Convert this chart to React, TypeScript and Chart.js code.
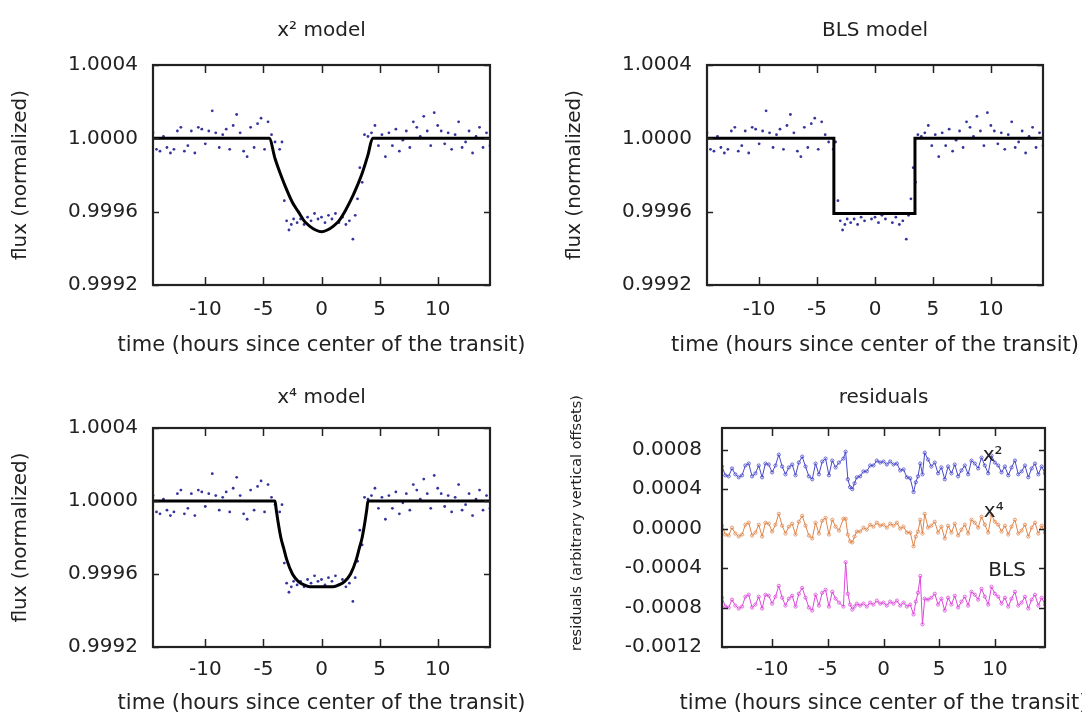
import React, { useEffect, useRef } from "react";
import { Chart, registerables } from "chart.js";

Chart.register(...registerables);

// ---------- data ----------
const times = [
  -14.5, -14.2, -13.9, -13.6, -13.3, -13.0, -12.7, -12.4, -12.1, -11.8, -11.5, -11.2, -10.9, -10.6, -10.3, -10.0,
  -9.7, -9.4, -9.1, -8.8, -8.5, -8.2, -7.9, -7.6, -7.3, -7.0, -6.7, -6.4, -6.1, -5.8, -5.5, -5.2, -4.9, -4.6, -4.3,
  -4.0, -3.6, -3.4, -3.2, -3.0, -2.8, -2.6, -2.4, -2.1, -1.8, -1.5, -1.2, -0.9, -0.6, -0.3, 0.0, 0.3, 0.6, 0.9,
  1.2, 1.5, 1.8, 2.1, 2.4, 2.7, 2.9, 3.1, 3.3, 3.5, 3.7, 4.0,
  4.3, 4.6, 4.9, 5.2, 5.5, 5.8, 6.1, 6.4, 6.7, 7.0, 7.3, 7.6, 7.9, 8.2, 8.5, 8.8, 9.1, 9.4, 9.7, 10.0, 10.3,
  10.6, 10.9, 11.2, 11.5, 11.8, 12.1, 12.4, 12.7, 13.0, 13.3, 13.6, 13.9, 14.2, 14.5,
];

const flux = [
  1.00003, 0.99994, 0.99993, 1.00001, 0.99995, 0.99992, 0.99994, 1.00004, 1.00006, 0.99993, 0.99996, 1.00004,
  0.99992, 1.00006, 1.00005, 0.99997, 1.00004, 1.00015, 1.00003, 0.99995, 1.00002, 1.00005, 0.99994, 1.00007,
  1.00013, 1.00003, 0.99993, 0.9999, 1.00006, 0.99995, 1.00008, 1.00011, 0.99994, 1.00009, 1.00002,
  0.99998, 0.99994, 0.99998, 0.99966, 0.99955, 0.9995, 0.99953, 0.99956, 0.99954, 0.99956, 0.99953, 0.99957,
  0.99955, 0.99959, 0.99956, 0.99957, 0.99954, 0.99958, 0.99956, 0.99959, 0.99954, 0.99957, 0.99953, 0.99955,
  0.99945, 0.99958, 0.99967, 0.99984, 0.99976, 1.00002, 1.00001,
  1.00003, 1.00007, 0.99996, 1.00002, 0.9999, 1.00003, 0.99996, 1.00005, 0.99993, 0.99999, 1.00004, 0.99995,
  1.00009, 1.00006, 1.00001, 1.00012, 1.00004, 0.99996, 1.00014, 1.00007, 1.00004, 0.99997, 1.00003, 0.99994,
  1.00002, 1.00009, 0.99995, 0.99998, 1.00004, 0.99992, 1.00001, 1.00006, 0.99995, 1.00003, 0.99996,
];

const residualX2 = [
  63e-5, 54e-5, 53e-5, 61e-5, 55e-5, 52e-5, 54e-5, 64e-5, 66e-5, 53e-5, 56e-5, 64e-5, 52e-5, 66e-5, 65e-5, 57e-5,
  64e-5, 75e-5, 63e-5, 55e-5, 62e-5, 65e-5, 54e-5, 67e-5, 73e-5, 63e-5, 53e-5, 50e-5, 66e-5, 55e-5, 68e-5, 71e-5,
  54e-5, 69e-5, 62e-5,
  67e-5, 71e-5, 78e-5, 50e-5, 42e-5, 40e-5, 46e-5, 52e-5, 53e-5, 58e-5, 58e-5, 64e-5, 64e-5, 69e-5, 67e-5, 68e-5,
  65e-5, 68e-5, 65e-5, 66e-5, 59e-5, 60e-5, 52e-5, 51e-5, 37e-5, 47e-5, 53e-5, 66e-5, 55e-5, 77e-5, 70e-5,
  63e-5, 67e-5, 56e-5, 62e-5, 50e-5, 63e-5, 56e-5, 65e-5, 53e-5, 59e-5, 64e-5, 55e-5, 69e-5, 66e-5, 61e-5, 72e-5,
  64e-5, 56e-5, 74e-5, 67e-5, 64e-5, 57e-5, 63e-5, 54e-5, 62e-5, 69e-5, 55e-5, 58e-5, 64e-5, 52e-5, 61e-5, 66e-5,
  55e-5, 63e-5, 56e-5,
];

const residualX4 = [
  3e-5, -6e-5, -7e-5, 1e-5, -5e-5, -8e-5, -6e-5, 4e-5, 6e-5, -7e-5, -4e-5, 4e-5, -8e-5, 6e-5, 5e-5, -3e-5,
  4e-5, 15e-5, 3e-5, -5e-5, 2e-5, 5e-5, -6e-5, 7e-5, 13e-5, 3e-5, -7e-5, -10e-5, 6e-5, -5e-5, 8e-5, 11e-5,
  -6e-5, 9e-5, 2e-5,
  -2e-5, 10e-5, 10e-5, -6e-5, -13e-5, -14e-5, -8e-5, -3e-5, -3e-5, 1e-5, -1e-5, 4e-5, 2e-5, 6e-5, 3e-5, 4e-5,
  1e-5, 5e-5, 3e-5, 6e-5, 0, 2e-5, -4e-5, -4e-5, -18e-5, -8e-5, -3e-5, 9e-5, -5e-5, 15e-5, 1e-5,
  3e-5, 7e-5, -4e-5, 2e-5, -10e-5, 3e-5, -4e-5, 5e-5, -7e-5, -1e-5, 4e-5, -5e-5, 9e-5, 6e-5, 1e-5, 12e-5,
  4e-5, -4e-5, 14e-5, 7e-5, 4e-5, -3e-5, 3e-5, -6e-5, 2e-5, 9e-5, -5e-5, -2e-5, 4e-5, -8e-5, 1e-5, 6e-5,
  -5e-5, 3e-5, -4e-5,
];

const residualBLS = [
  -70e-5, -79e-5, -80e-5, -72e-5, -78e-5, -81e-5, -79e-5, -69e-5, -67e-5, -80e-5, -77e-5, -69e-5, -81e-5, -67e-5,
  -68e-5, -76e-5, -69e-5, -58e-5, -70e-5, -78e-5, -71e-5, -68e-5, -79e-5, -66e-5, -60e-5, -70e-5, -80e-5, -83e-5,
  -67e-5, -78e-5, -65e-5, -62e-5, -79e-5, -64e-5, -71e-5,
  -75e-5, -79e-5, -34e-5, -66e-5, -77e-5, -82e-5, -79e-5, -76e-5, -78e-5, -76e-5, -79e-5, -75e-5, -77e-5, -73e-5,
  -76e-5, -75e-5, -78e-5, -74e-5, -76e-5, -73e-5, -78e-5, -75e-5, -79e-5, -77e-5, -87e-5, -74e-5, -65e-5, -48e-5,
  -97e-5, -71e-5, -72e-5,
  -70e-5, -66e-5, -77e-5, -71e-5, -83e-5, -70e-5, -77e-5, -68e-5, -80e-5, -74e-5, -69e-5, -78e-5, -64e-5, -67e-5,
  -72e-5, -61e-5, -69e-5, -77e-5, -59e-5, -66e-5, -69e-5, -76e-5, -70e-5, -79e-5, -71e-5, -64e-5, -78e-5, -75e-5,
  -69e-5, -81e-5, -72e-5, -67e-5, -78e-5, -70e-5, -77e-5,
];

const x2ModelTime = [-14.5, -4.5, -4.0, -3.5, -3.0, -2.5, -2.0, -1.5, -1.0, -0.5, 0, 0.5, 1.0, 1.5, 2.0, 2.5, 3.0, 3.5, 4.0, 4.4, 14.5];
const x2ModelFlux = [1, 1, 0.99989, 0.9998, 0.99972, 0.99965, 0.9996, 0.99955, 0.99952, 0.9995, 0.99949, 0.9995, 0.99952, 0.99955, 0.9996, 0.99966, 0.99973, 0.99981, 0.99991, 1, 1];

const x4ModelTime = [-14.5, -4.0, -3.9, -3.75, -3.5, -3.25, -3.0, -2.5, -2.0, -1.5, -1.0, 0, 1.0, 1.5, 2.0, 2.5, 3.0, 3.25, 3.5, 3.75, 3.9, 4.0, 14.5];
const x4ModelFlux = [1, 1, 0.999955, 0.99989, 0.9998, 0.99974, 0.99968, 0.9996, 0.99956, 0.99954, 0.99953, 0.99953, 0.99953, 0.99954, 0.99956, 0.9996, 0.99968, 0.99974, 0.9998, 0.99989, 0.999955, 1, 1];

const blsModelTime = [-14.5, -3.55, -3.55, 3.45, 3.45, 14.5];
const blsModelFlux = [1, 1, 0.99959, 0.99959, 1, 1];

const xTicks = [-10, -5, 0, 5, 10];
const fluxTicks = [0.9992, 0.9996, 1.0, 1.0004];
const residualTicks = [-0.0012, -0.0008, -0.0004, 0, 0.0004, 0.0008];

const residualLabels = [
  { text: "x\u00B2", t: 9.8, v: 0.00074 },
  { text: "x\u2074", t: 9.9, v: 0.00017 },
  { text: "BLS", t: 11.1, v: -0.00043 },
];

const X_TITLE = "time (hours since center of the transit)";

// ---------- styling ----------
const FONT = "'DejaVu Sans', sans-serif";
const INK = "#222";
const POINT_BLUE = "#34349c";

const pts = (xs: number[], ys: number[]) => xs.map((x, i) => ({ x, y: ys[i] }));

const framePlugin = {
  id: "gnuFrame",
  afterDatasetsDraw(chart: any) {
    const { ctx, chartArea: a, scales } = chart;
    const xs = scales.x;
    const ys = scales.y;
    ctx.save();
    ctx.strokeStyle = INK;
    ctx.lineWidth = 1.5;
    ctx.beginPath();
    xs.ticks.forEach((t: any) => {
      const px = Math.round(xs.getPixelForValue(t.value)) + 0.5;
      ctx.moveTo(px, a.bottom);
      ctx.lineTo(px, a.bottom - 8);
      ctx.moveTo(px, a.top);
      ctx.lineTo(px, a.top + 8);
    });
    ys.ticks.forEach((t: any) => {
      const py = Math.round(ys.getPixelForValue(t.value)) + 0.5;
      ctx.moveTo(a.left, py);
      ctx.lineTo(a.left + 6, py);
      ctx.moveTo(a.right, py);
      ctx.lineTo(a.right - 6, py);
    });
    ctx.stroke();
    ctx.lineWidth = 2.2;
    ctx.strokeRect(a.left, a.top, a.right - a.left, a.bottom - a.top);
    ctx.restore();
  },
};

const residualLabelPlugin = {
  id: "residualLabels",
  afterDatasetsDraw(chart: any) {
    const { ctx, scales } = chart;
    ctx.save();
    ctx.fillStyle = INK;
    ctx.font = `20px ${FONT}`;
    ctx.textAlign = "center";
    ctx.textBaseline = "middle";
    residualLabels.forEach((l) => {
      ctx.fillText(l.text, scales.x.getPixelForValue(l.t), scales.y.getPixelForValue(l.v));
    });
    ctx.restore();
  },
};

type Spec = {
  left: number;
  top: number;
  w: number;
  h: number;
  title: string;
  titleTop: number;
  titleBottom: number;
  padRight: number;
  yWidth: number;
  yTickPad: number;
  yTitle: string;
  yTitleSize: number;
  yTitleX: number;
  yTitleY: number | null;
  yMin: number;
  yMax: number;
  yTicks: number[];
  xHeight: number;
  xTickPad: number;
  xTitleY: number;
  datasets: any[];
  extraPlugins: any[];
};

const axisTitlePlugin = (s: Spec) => ({
  id: "axisTitles",
  afterDraw(chart: any) {
    const { ctx, chartArea: a } = chart;
    ctx.save();
    ctx.fillStyle = INK;
    ctx.textAlign = "center";
    ctx.textBaseline = "middle";
    ctx.font = `21px ${FONT}`;
    ctx.fillText(X_TITLE, (a.left + a.right) / 2, s.xTitleY);
    const cy = s.yTitleY === null ? (a.top + a.bottom) / 2 : s.yTitleY;
    ctx.translate(s.yTitleX, cy);
    ctx.rotate(-Math.PI / 2);
    ctx.font = `${s.yTitleSize}px ${FONT}`;
    ctx.fillText(s.yTitle, 0, 0);
    ctx.restore();
  },
});

function buildConfig(s: Spec): any {
  return {
    type: "scatter",
    data: { datasets: s.datasets },
    options: {
      animation: false,
      responsive: false,
      maintainAspectRatio: false,
      devicePixelRatio: 1,
      layout: { padding: { left: 0, right: s.padRight, top: 0, bottom: 0 } },
      plugins: {
        legend: { display: false },
        tooltip: { enabled: false },
        title: {
          display: true,
          fullSize: false,
          text: s.title,
          color: INK,
          font: { family: FONT, size: 20, weight: "normal" },
          padding: { top: s.titleTop, bottom: s.titleBottom },
        },
      },
      scales: {
        x: {
          type: "linear",
          min: -14.5,
          max: 14.5,
          grid: { display: false, drawTicks: false },
          border: { display: false },
          afterBuildTicks: (sc: any) => {
            sc.ticks = xTicks.map((v) => ({ value: v }));
          },
          afterFit: (sc: any) => {
            sc.height = s.xHeight;
          },
          ticks: {
            color: INK,
            font: { family: FONT, size: 20 },
            padding: s.xTickPad,
            maxRotation: 0,
            autoSkip: false,
            callback: (v: any) => String(v),
          },
        },
        y: {
          type: "linear",
          min: s.yMin,
          max: s.yMax,
          grid: { display: false, drawTicks: false },
          border: { display: false },
          afterBuildTicks: (sc: any) => {
            sc.ticks = s.yTicks.map((v) => ({ value: v }));
          },
          afterFit: (sc: any) => {
            sc.width = s.yWidth;
          },
          ticks: {
            color: INK,
            font: { family: FONT, size: 20 },
            padding: s.yTickPad,
            autoSkip: false,
            callback: (v: any) => Number(v).toFixed(4),
          },
        },
      },
    },
    plugins: [framePlugin, axisTitlePlugin(s), ...s.extraPlugins],
  };
}

function Panel({ spec }: { spec: Spec }) {
  const ref = useRef<HTMLCanvasElement | null>(null);
  useEffect(() => {
    if (!ref.current) return;
    const chart = new Chart(ref.current, buildConfig(spec));
    return () => chart.destroy();
  }, [spec]);
  return (
    <canvas
      ref={ref}
      width={spec.w}
      height={spec.h}
      style={{ position: "absolute", left: spec.left, top: spec.top, width: spec.w, height: spec.h }}
    />
  );
}

const dataPoints = () => ({
  data: pts(times, flux),
  showLine: false,
  pointRadius: 1.4,
  pointBorderWidth: 0,
  pointBackgroundColor: POINT_BLUE,
  order: 2,
});

const modelLine = (xs: number[], ys: number[], smooth: boolean) => ({
  data: pts(xs, ys),
  showLine: true,
  pointRadius: 0,
  borderColor: "#000",
  borderWidth: 3,
  borderJoinStyle: "miter",
  cubicInterpolationMode: smooth ? "monotone" : "default",
  tension: 0,
  order: 1,
});

const residualLine = (ys: number[], color: string) => ({
  data: pts(times, ys),
  showLine: true,
  borderColor: color,
  borderWidth: 1,
  pointRadius: 1.6,
  pointBorderWidth: 0.8,
  pointBorderColor: color,
  pointBackgroundColor: "rgba(255,255,255,0)",
  order: 1,
});

const fluxCommon = {
  yTitle: "flux (normalized)",
  yTitleSize: 20,
  yTitleY: null,
  yMin: 0.9992,
  yMax: 1.0004,
  yTicks: fluxTicks,
  yTickPad: 15,
};

const specs: Spec[] = [
  {
    ...fluxCommon,
    left: 0, top: 0, w: 541, h: 360,
    title: "x\u00B2 model", titleTop: 19, titleBottom: 22,
    padRight: 51, yWidth: 153, yTitleX: 21,
    xHeight: 75, xTickPad: 13, xTitleY: 346,
    datasets: [modelLine(x2ModelTime, x2ModelFlux, true), dataPoints()],
    extraPlugins: [],
  },
  {
    ...fluxCommon,
    left: 541, top: 0, w: 541, h: 360,
    title: "BLS model", titleTop: 19, titleBottom: 22,
    padRight: 39, yWidth: 166, yTitleX: 34,
    xHeight: 75, xTickPad: 13, xTitleY: 346,
    datasets: [modelLine(blsModelTime, blsModelFlux, false), dataPoints()],
    extraPlugins: [],
  },
  {
    ...fluxCommon,
    left: 0, top: 360, w: 541, h: 358,
    title: "x\u2074 model", titleTop: 26, titleBottom: 18,
    padRight: 51, yWidth: 153, yTitleX: 21,
    xHeight: 71, xTickPad: 11, xTitleY: 344,
    datasets: [modelLine(x4ModelTime, x4ModelFlux, true), dataPoints()],
    extraPlugins: [],
  },
  {
    left: 541, top: 360, w: 541, h: 358,
    title: "residuals", titleTop: 26, titleBottom: 18,
    padRight: 37, yWidth: 181, yTickPad: 20,
    yTitle: "residuals (arbitrary vertical offsets)", yTitleSize: 14.5, yTitleX: 36, yTitleY: 163,
    yMin: -0.0012, yMax: 0.00102, yTicks: residualTicks,
    xHeight: 71, xTickPad: 11, xTitleY: 344,
    datasets: [
      residualLine(residualX2, "#4848cc"),
      residualLine(residualX4, "#e0854a"),
      residualLine(residualBLS, "#dc48dc"),
    ],
    extraPlugins: [residualLabelPlugin],
  },
];

export default function App() {
  return (
    <div
      style={{
        position: "fixed",
        left: 0,
        top: 0,
        width: 1082,
        height: 718,
        background: "#fff",
        overflow: "hidden",
      }}
    >
      {specs.map((s, i) => (
        <Panel key={i} spec={s} />
      ))}
    </div>
  );
}
